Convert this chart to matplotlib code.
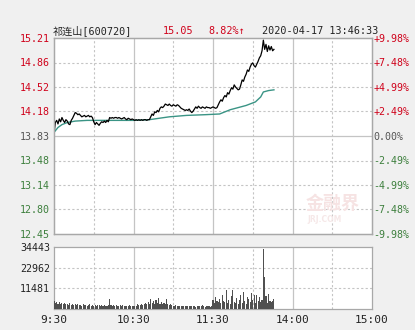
import matplotlib
matplotlib.use("Agg")
import matplotlib.pyplot as plt
import numpy as np

# ---------------- data ----------------
prev_close = 13.83
price_ticks = ["15.21", "14.86", "14.52", "14.18", "13.83", "13.48", "13.14", "12.80", "12.45"]
pct_ticks = ["+9.98%", "+7.48%", "+4.99%", "+2.49%", "0.00%", "-2.49%", "-4.99%", "-7.48%", "-9.98%"]
vol_ticks = [11481, 22962, 34443]
time_labels = ["9:30", "10:30", "11:30", "14:00", "15:00"]
time_pos = [0, 60, 120, 180, 240]

price = [13.86, 14.02, 14.05, 14.00, 14.07, 14.03, 14.09, 14.05, 14.02, 14.06,
         14.04, 14.00, 13.99, 14.05, 14.08, 14.12, 14.16, 14.15, 14.13, 14.14,
         14.12, 14.10, 14.11, 14.12, 14.10, 14.11, 14.12, 14.10, 14.11, 14.09,
         14.03, 13.99, 14.02, 14.00, 13.98, 14.01, 14.03, 14.02, 14.04, 14.02,
         14.05, 14.03, 14.09, 14.08, 14.09, 14.08, 14.09, 14.09, 14.08, 14.09,
         14.08, 14.07, 14.08, 14.09, 14.07, 14.06, 14.08, 14.07, 14.06, 14.07,
         14.06, 14.05, 14.06, 14.05, 14.06, 14.05, 14.06, 14.05, 14.06, 14.06,
         14.05, 14.06, 14.06, 14.10, 14.14, 14.12, 14.17, 14.16, 14.19, 14.17,
         14.22, 14.24, 14.23, 14.25, 14.28, 14.27, 14.26, 14.28, 14.26, 14.25,
         14.27, 14.26, 14.25, 14.27, 14.26, 14.24, 14.22, 14.21, 14.20, 14.19,
         14.20, 14.19, 14.21, 14.18, 14.16, 14.18, 14.21, 14.24, 14.22, 14.25,
         14.23, 14.22, 14.24, 14.23, 14.22, 14.24, 14.23, 14.23, 14.22, 14.23,
         14.24, 14.23, 14.22, 14.23, 14.27, 14.31, 14.34, 14.32, 14.37, 14.40,
         14.38, 14.44, 14.42, 14.47, 14.51, 14.49, 14.55, 14.52, 14.50, 14.48,
         14.49, 14.55, 14.62, 14.60, 14.66, 14.70, 14.76, 14.74, 14.80, 14.84,
         14.86, 14.82, 14.80, 14.84, 14.88, 14.93, 14.96, 15.03, 15.18, 15.05,
         15.12, 15.02, 15.10, 15.04, 15.09, 15.03, 15.05]

avg_idx = [0, 3, 6, 10, 16, 25, 40, 60, 72, 87, 100, 114, 125, 133, 145, 152, 156, 158, 162, 166]
avg_val = [13.88, 13.95, 13.99, 14.02, 14.04, 14.05, 14.05, 14.05, 14.06, 14.10,
           14.12, 14.13, 14.14, 14.20, 14.26, 14.31, 14.38, 14.45, 14.47, 14.48]

volume = [4300, 3600, 4000, 3000, 3700, 2800, 3300, 2500, 3400, 2600,
          3000, 2200, 3500, 2400, 2800, 2200, 2600, 2000, 3000, 2100,
          2400, 1900, 2600, 2000, 2300, 1800, 2200, 2500, 1900, 2100,
          1800, 2300, 1700, 2000, 2400, 1600, 2100, 1800, 2200, 1700,
          1900, 2300, 5400, 2000, 1800, 2200, 1600, 2400, 1900, 1700,
          2100, 1800, 2000, 1600, 1900, 1500, 1800, 2000, 1700, 1600,
          1900, 1500, 1800, 2600, 2000, 2400, 3000, 2200, 2700, 3400,
          2500, 3800, 2900, 5700, 3100, 4200, 2600, 4800, 3300, 6000,
          3000, 4000, 2800, 3600, 2500, 5600, 2700, 2300, 3000, 2100,
          1800, 1600, 2000, 1500, 1700, 1400, 1800, 1600, 1500, 1700,
          1400, 1600, 1500, 1800, 1400, 1600, 1500, 1300, 1700, 1500,
          1400, 1600, 2300, 1500, 1300, 1700, 1400, 1500, 1300, 1600,
          5000, 3500, 6500, 4200, 3800, 5600, 3300, 7500, 4500, 3800,
          10500, 3500, 5000, 2800, 7000, 10800, 4000, 3200, 6000, 2600,
          4800, 7600, 3600, 9700, 4400, 3000, 6500, 5500, 3800, 9000,
          5000, 7800, 3600, 8000, 4500, 6800, 3800, 5200, 33500, 17800,
          7000, 3500, 8500, 4600, 3800, 4200, 5300]

# ---------------- style ----------------
RED = "#d0021b"
GREEN = "#3d7f3d"
GRAY_TXT = "#555555"
GRID = "#c4c4c4"
BORDER = "#a8a8a8"
MONO = ["DejaVu Sans Mono", "Noto Sans CJK SC"]
FS = 7.2

W, H = 415, 330
fig = plt.figure(figsize=(W / 100, H / 100), dpi=100, facecolor="#f0f0f0")

def fx(px):
    return px / W

def fy(py):
    return 1 - py / H

L, R = 54, 372
ax = fig.add_axes([fx(L), fy(234), fx(R - L), (234 - 38) / H], facecolor="white")
axv = fig.add_axes([fx(L), fy(309), fx(R - L), (309 - 247) / H], facecolor="white")

step = 0.345
yt = [prev_close + (4 - k) * step for k in range(9)]
ax.set_xlim(0, 240)
ax.set_ylim(prev_close - 4 * step, prev_close + 4 * step)

# grid
solid_x = [60, 120, 180]
dash_x = [30, 90, 150, 210]
for a in (ax, axv):
    for x in solid_x:
        a.axvline(x, color=GRID, lw=0.9, zorder=1)
    for x in dash_x:
        a.axvline(x, color=GRID, lw=0.8, ls=(0, (2, 2)), zorder=1)
for k, y in enumerate(yt):
    if k == 4:
        ax.axhline(y, color=GRID, lw=0.9, zorder=1)
    elif 0 < k < 8:
        ax.axhline(y, color=GRID, lw=0.8, ls=(0, (2, 2)), zorder=1)

# watermark
ax.text(210, 12.88, "金融界", family=["Noto Sans CJK SC"], fontsize=13, fontweight="bold",
        color="#f6e3e3", ha="center", va="center", zorder=1)
ax.text(204, 12.66, "JRJ.COM", family=["DejaVu Sans"], fontsize=5.5, fontweight="bold",
        color="#f6e8e8", ha="center", va="center", zorder=1)

x_price = np.arange(len(price))
ax.plot(avg_idx, avg_val, color="#3a9485", lw=1.0, zorder=3)
ax.plot(x_price, price, color="black", lw=0.9, zorder=4)

ax.set_yticks(yt)
ax.set_yticklabels(price_ticks, family=MONO, fontsize=FS)
for k, t in enumerate(ax.get_yticklabels()):
    t.set_color(RED if k < 4 else (GRAY_TXT if k == 4 else GREEN))
ax.tick_params(axis="y", length=0, pad=3)
ax.set_xticks([])

axr = ax.twinx()
axr.set_ylim(ax.get_ylim())
axr.set_yticks(yt)
axr.set_yticklabels(pct_ticks, family=MONO, fontsize=FS)
for k, t in enumerate(axr.get_yticklabels()):
    t.set_color(RED if k < 4 else (GRAY_TXT if k == 4 else GREEN))
axr.tick_params(axis="y", length=0, pad=1)

for a in (ax, axr, axv):
    for s in a.spines.values():
        s.set_color(BORDER)
        s.set_linewidth(0.9)

# volume
axv.set_xlim(0, 240)
axv.set_ylim(0, vol_ticks[-1])
for v in vol_ticks[:2]:
    axv.axhline(v, color=GRID, lw=0.8, ls=(0, (2, 2)), zorder=1)
axv.bar(np.arange(len(volume)), volume, width=0.8, color="#505050", zorder=3)
axv.set_yticks(vol_ticks)
axv.set_yticklabels([str(v) for v in vol_ticks], family=MONO, fontsize=FS, color="#222222")
axv.tick_params(axis="y", length=0, pad=3)
axv.set_xticks(time_pos)
axv.set_xticklabels(time_labels, family=MONO, fontsize=8, color="#222222")
axv.tick_params(axis="x", length=0, pad=4)

# header
yh = fy(31)
HFS = 7.3
fig.text(fx(53), yh, "祁连山[600720]", family=MONO, fontsize=HFS, color="#222222", va="center")
fig.text(fx(163), yh, "15.05", family=MONO, fontsize=HFS, color=RED, va="center")
fig.text(fx(208), yh, "8.82%↑", family=MONO, fontsize=HFS, color=RED, va="center")
fig.text(fx(262), yh, "2020-04-17 13:46:33", family=MONO, fontsize=HFS, color="#222222", va="center")

fig.savefig("out.png", dpi=100, facecolor=fig.get_facecolor())
